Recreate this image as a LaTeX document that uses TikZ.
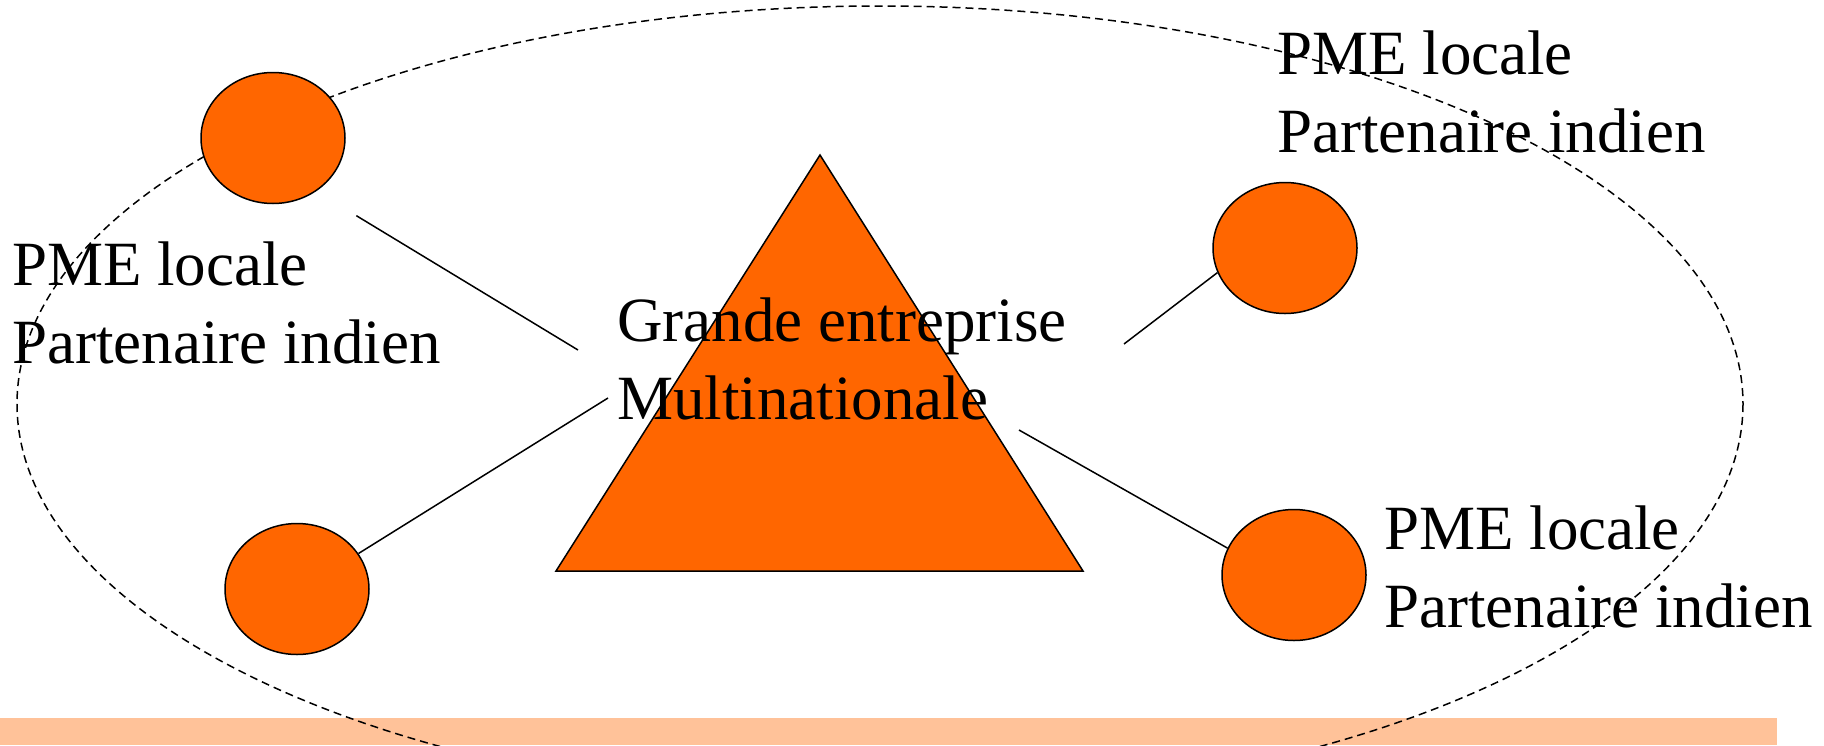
\documentclass[tikz,border=0pt]{standalone}
\usepackage{fontspec}
\setmainfont{Liberation Serif}
\usepackage{xcolor}
\usepackage{tikz}
\usetikzlibrary{shapes.geometric}

\definecolor{pmeorange}{HTML}{FF6600}
\definecolor{barpeach}{HTML}{FFC299}

\begin{document}
\begin{tikzpicture}[x = 1pt, y = -1pt,
        pme/.style = {ellipse, draw = black, fill = pmeorange, line width = 1.5pt,
            minimum width = 144pt, minimum height = 131pt, inner sep = 0pt},
        lbl/.style = {font = \fontsize{63}{78}\selectfont, align = left,
            anchor = base west, inner sep = 0pt},
        link/.style = {draw = black, line width = 1.5pt}]
            \useasboundingbox (0, 0) rectangle (1824, 745);

            \fill[barpeach] (0, 718) rectangle (1777, 745);
            \draw[dash pattern = on 8pt off 5pt, line width = 1.5pt]
                (880, 404) ellipse [x radius = 863, y radius = 398];

            % la grande entreprise
            \filldraw[color = black, fill = pmeorange, line width = 1.5pt]
                (820, 155) -- (1083, 571) -- (556, 571) -- cycle;

            % les PME
            \node[pme] (pme1) at (273, 138) {};
            \node[pme] (pme2) at (297, 589) {};
            \node[pme] (pme3) at (1285, 248) {};
            \node[pme] (pme4) at (1294, 575) {};

            \coordinate (ge1) at (578, 350);
            \coordinate (ge2) at (608, 398);
            \coordinate (ge3) at (1124, 344);
            \coordinate (ge4) at (1019, 430);

            \draw[link, shorten <= 47pt] (pme1.-51) -- (ge1);
            \draw[link] (pme2.30) -- (ge2);
            \draw[link] (pme3.200) -- (ge3);
            \draw[link] (pme4.158) -- (ge4);

            % base = derniere ligne
            \node[lbl] (ge) at (617, 419) {Grande entreprise\\Multinationale};
            \node[lbl] (lbl1) at (12, 363) {PME locale\\Partenaire indien};
            \node[lbl] (lbl3) at (1277, 152) {PME locale\\Partenaire indien};
            \node[lbl] (lbl4) at (1384, 627) {PME locale\\Partenaire indien};
        \end{tikzpicture}
\end{document}
